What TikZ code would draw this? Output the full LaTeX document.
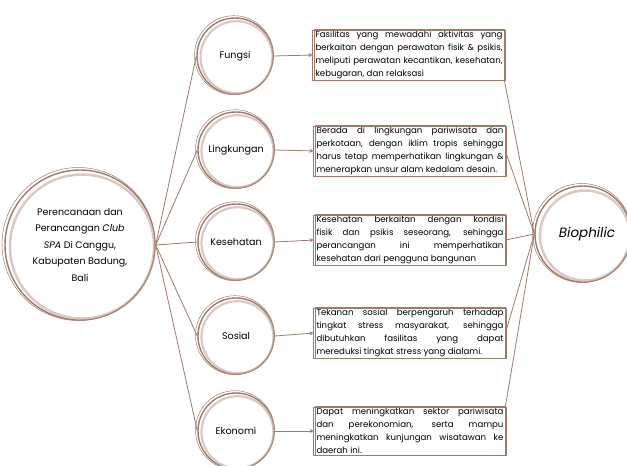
\documentclass[tikz,border=0pt]{standalone}
\usepackage{fontspec}
\setmainfont{Poppins}
\usetikzlibrary{arrows.meta}
\definecolor{myBrown}{HTML}{9E7A6B}
\definecolor{myLight}{HTML}{C9B2A8}
\newcommand\boxfont{\fontsize{8.6}{13}\selectfont\hyphenpenalty 10000\relax}

\begin{document}
\begin{tikzpicture}[x=1pt, y=-1pt, >={Stealth[length=4pt,width=4pt]}, thick, myBrown]
  \tikzstyle{M}=[circle, draw=myBrown, line width=1.4pt, minimum size=150pt, inner sep=0pt, text=black, align=center, font=\fontsize{9.5}{16.5}\selectfont]
  \tikzstyle{K}=[circle, draw=myBrown, line width=1.4pt, minimum size=76pt, inner sep=0pt, text=black, font=\fontsize{9.6}{11}\selectfont]
  \tikzstyle{T}=[draw=myBrown, line width=.9pt, text=black, text width=187pt, inner sep=1.5pt, align=justify, font=\boxfont]
  \useasboundingbox (0,0) rectangle (627,466);

  \node[M] at (80,245) (main) {Perencanaan dan\\Perancangan \textit{Club}\\\textit{SPA} Di Canggu,\\Kabupaten Badung,\\Bali};

  \node[K] at (235,56) (fungsi) {Fungsi};
  \node[K] at (236,150) (lingk) {Lingkungan};
  \node[K] at (236,242) (sehat) {Kesehatan};
  \node[K] at (236,336) (sosial) {Sosial};
  \node[K] at (236,431) (ekonomi) {Ekonomi};

  \node[T] at (409,55) (b1) {Fasilitas yang mewadahi aktivitas yang\linebreak berkaitan dengan perawatan fisik \& psikis,\linebreak meliputi perawatan kecantikan, kesehatan,\linebreak kebugaran, dan relaksasi};
  \node[T] at (410,151) (b2) {Berada di lingkungan pariwisata dan\linebreak perkotaan, dengan iklim tropis sehingga\linebreak harus tetap memperhatikan lingkungan \&\linebreak menerapkan unsur alam kedalam desain.};
  \node[T] at (410,240) (b3) {Kesehatan berkaitan dengan kondisi\linebreak fisik dan psikis seseorang, sehingga\linebreak perancangan ini memperhatikan\linebreak kesehatan dari pengguna bangunan};
  \node[T] at (410,333) (b4) {Tekanan sosial berpengaruh terhadap\linebreak tingkat stress masyarakat, sehingga\linebreak dibutuhkan fasilitas yang dapat\linebreak mereduksi tingkat stress yang dialami.};
  \node[T] at (410,431) (b5) {Dapat meningkatkan sektor pariwisata\linebreak dan perekonomian, serta mampu\linebreak meningkatkan kunjungan wisatawan ke\linebreak daerah ini.};

  \node[M, minimum size=96pt, font=\fontsize{13.5}{15}\selectfont\itshape] at (583,234) (bio) {\hspace*{8pt}Biophilic};

  % brush strokes
  \foreach \n in {fungsi,lingk,sehat,sosial,ekonomi} {
    \draw[myLight, line width=2.2pt, opacity=.7] ([shift={(1.5,1.2)}]\n.center) circle (36);
    \draw[line width=.5pt] ([shift={(-1,-.8)}]\n.center) circle (39.5);
  }
  \draw[myLight, line width=2.5pt, opacity=.7] ([shift={(2,1.5)}]main.center) circle (72);
  \draw[line width=.5pt] ([shift={(-1.5,-1)}]main.center) circle (76.5);
  \draw[myLight, line width=2.5pt, opacity=.7] ([shift={(2,1.5)}]bio.center) circle (45);
  \draw[line width=.5pt] ([shift={(-1,-1)}]bio.center) circle (49.5);
  \foreach \b in {b1,b2,b3,b4,b5}
    \draw[line width=.5pt] ([shift={(-1.5,1.2)}]\b.north west) rectangle ([shift={(1.2,-1)}]\b.south east);

  \draw[line width=.8pt] (main.east) -- (fungsi.west);
  \draw[line width=.8pt] (main.east) -- (lingk.west);
  \draw[line width=.8pt] (main.east) -- (sehat.west);
  \draw[line width=.8pt] (main.east) -- (sosial.west);
  \draw[line width=.8pt] (main.east) -- (ekonomi.west);

  \draw[->, line width=.8pt, shorten >=1pt] (fungsi.east) -- (b1.west);
  \draw[->, line width=.8pt, shorten >=1pt] (lingk.east) -- (b2.west);
  \draw[->, line width=.8pt, shorten >=1pt] (sehat.east) -- (b3.west);
  \draw[->, line width=.8pt, shorten >=1pt] (sosial.east) -- (b4.west);
  \draw[->, line width=.8pt, shorten >=1pt] (ekonomi.east) -- (b5.west);

  \draw[line width=.8pt] (b1.south east) -- (bio.west);
  \draw[line width=.8pt] (b2.east) -- (bio.west);
  \draw[line width=.8pt] (b3.east) -- (bio.west);
  \draw[line width=.8pt] (b4.east) -- (bio.west);
  \draw[line width=.8pt] (b5.north east) -- (bio.west);
\end{tikzpicture}
\end{document}
